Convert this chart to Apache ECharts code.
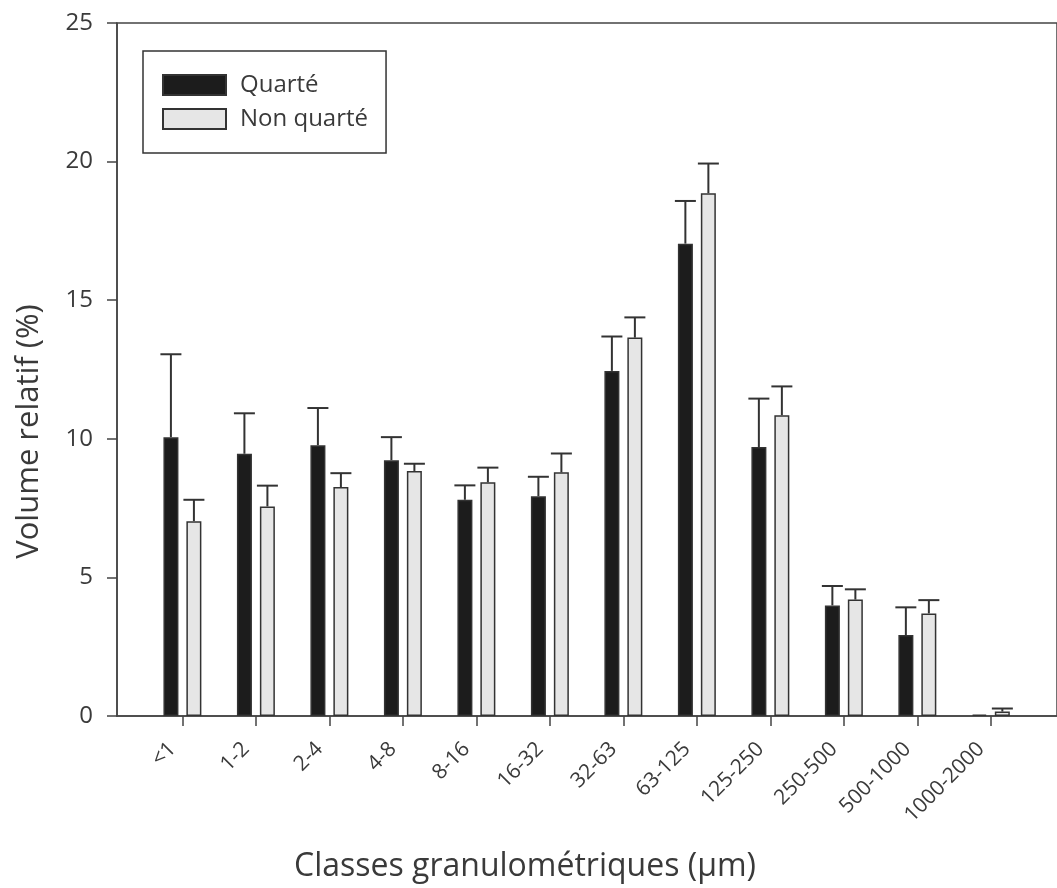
<!DOCTYPE html>
<html>
<head>
<meta charset="utf-8">
<script src="https://cdn.jsdelivr.net/npm/echarts@6/dist/echarts.min.js"></script>
<style>
html,body{margin:0;padding:0;background:#fff;}
#chart{width:1057px;height:888px;}
</style>
</head>
<body>
<div id="chart"></div>
<script>
// ---- data ----
const categories = ['<1','1-2','2-4','4-8','8-16','16-32','32-63','63-125','125-250','250-500','500-1000','1000-2000'];
const quarteMean = [10.06, 9.46, 9.77, 9.23, 7.80, 7.93, 12.45, 17.04, 9.70, 3.99, 2.92, 0.05];
const quarteErr  = [2.99, 1.46, 1.34, 0.83, 0.52, 0.70, 1.24, 1.54, 1.75, 0.70, 1.00, 0.00];
const nonQuarteMean = [7.03, 7.56, 8.26, 8.84, 8.43, 8.79, 13.65, 18.86, 10.85, 4.20, 3.70, 0.16];
const nonQuarteErr  = [0.77, 0.75, 0.50, 0.26, 0.53, 0.68, 0.73, 1.07, 1.04, 0.37, 0.48, 0.11];
const yTicks = [0, 5, 10, 15, 20, 25];

const FONT = '"Open Sans", "Noto Sans", sans-serif';
const INK = '#3a3a3a';

const idx = categories.map((c, i) => i);
const barData = arr => arr.map((v, i) => [i, v]);
const errData = (m, e) => m.map((v, i) => [i, v, v + e[i]]);

function errRenderer(offsetPx) {
  return function (params, api) {
    const x = api.value(0), y0 = api.value(1), y1 = api.value(2);
    const p0 = api.coord([x, y0]);
    const p1 = api.coord([x, y1]);
    const cx = p0[0] + offsetPx;
    const half = 10.5;
    if (y1 - y0 <= 0) return null;
    const st = { stroke: '#333', lineWidth: 2 };
    return {
      type: 'group',
      children: [
        { type: 'line', shape: { x1: cx, y1: p0[1], x2: cx, y2: p1[1] }, style: st },
        { type: 'line', shape: { x1: cx - half, y1: p1[1], x2: cx + half, y2: p1[1] }, style: st }
      ]
    };
  };
}

const chart = echarts.init(document.getElementById('chart'), null, { renderer: 'canvas' });
chart.setOption({
  animation: false,
  backgroundColor: '#fff',
  textStyle: { fontFamily: FONT },
  grid: {
    left: 117, top: 23, bottom: 169, right: -12,
    show: true, borderColor: '#444', borderWidth: 1.5, backgroundColor: 'transparent'
  },
  legend: {
    data: ['Quarté', 'Non quarté'],
    orient: 'vertical',
    left: 143, top: 51,
    padding: [22, 18, 22, 19],
    itemWidth: 63, itemHeight: 20, itemGap: 10,
    borderColor: '#333', borderWidth: 1.5,
    icon: 'rect',
    textStyle: { fontFamily: FONT, fontSize: 24, color: INK, padding: [0, 0, 0, 9] }
  },
  xAxis: {
    type: 'value',
    min: -0.89, max: 11.9,
    name: 'Classes granulométriques (µm)',
    nameLocation: 'middle',
    nameGap: 135,
    nameTextStyle: { fontFamily: FONT, fontSize: 32, color: INK, padding: [0, 124, 0, 0] },
    axisLine: { show: true, onZero: false, lineStyle: { color: '#444', width: 1.5 } },
    axisTick: { show: true, customValues: idx, length: 10, inside: false, lineStyle: { color: '#444', width: 1.5 } },
    axisLabel: {
      customValues: idx,
      formatter: v => categories[Math.round(v)],
      rotate: 45, margin: 20,
      padding: [0, 14, 0, 0],
      fontFamily: FONT, fontSize: 21, color: INK
    },
    splitLine: { show: false }
  },
  yAxis: {
    type: 'value',
    min: 0, max: 25, interval: 5,
    name: 'Volume relatif (%)',
    nameLocation: 'middle',
    nameGap: 72,
    nameTextStyle: { fontFamily: FONT, fontSize: 31, color: INK, padding: [0, 124, 0, 0] },
    axisLine: { show: true, onZero: false, lineStyle: { color: '#444', width: 1.5 } },
    axisTick: { show: true, length: 10, lineStyle: { color: '#444', width: 1.5 } },
    axisLabel: { margin: 24, fontFamily: FONT, fontSize: 24, color: INK, formatter: v => yTicks.includes(v) ? String(v) : '' },
    splitLine: { show: false }
  },
  series: [
    {
      name: 'Quarté', type: 'bar', data: barData(quarteMean),
      barWidth: 15, barGap: '53%',
      itemStyle: { color: '#1c1c1c', borderColor: '#333', borderWidth: 1.5 }
    },
    {
      name: 'Non quarté', type: 'bar', data: barData(nonQuarteMean),
      barWidth: 15, barGap: '53%',
      itemStyle: { color: '#e6e6e6', borderColor: '#333', borderWidth: 1.5 }
    },
    {
      name: 'errQ', type: 'custom', data: errData(quarteMean, quarteErr),
      renderItem: errRenderer(-11.5), encode: { x: 0, y: [1, 2] }, z: 3, silent: true
    },
    {
      name: 'errNQ', type: 'custom', data: errData(nonQuarteMean, nonQuarteErr),
      renderItem: errRenderer(11.5), encode: { x: 0, y: [1, 2] }, z: 3, silent: true
    }
  ]
});
</script>
</body>
</html>
